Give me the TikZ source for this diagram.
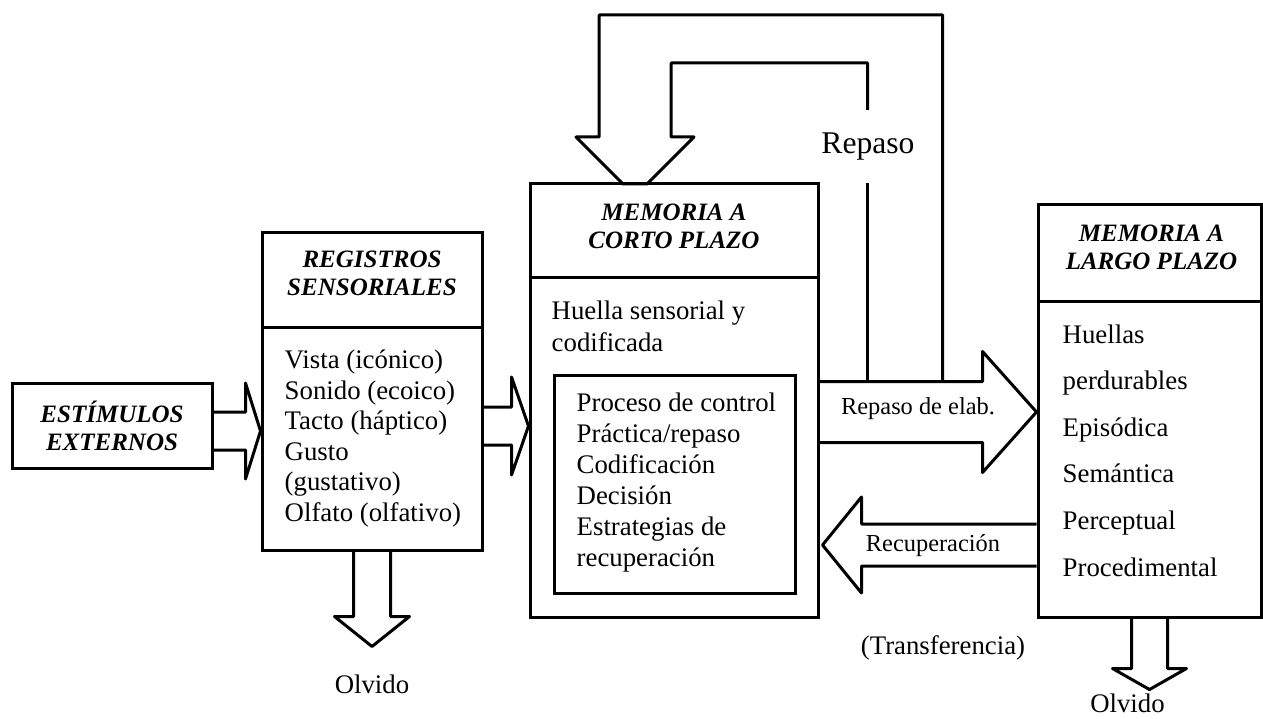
\documentclass[tikz,border=0pt]{standalone}
\usepackage{fontspec}
\setmainfont{Liberation Serif}
\usetikzlibrary{calc}

\tikzset{
  membox/.style={draw, line width=3pt, rectangle, inner sep=0pt},
  fatarrow/.style={draw, line width=3pt, line join=round},
  ttl/.style={font=\fontsize{25}{28}\selectfont\bfseries\itshape, align=center, inner sep=0pt},
  txt/.style={font=\fontsize{26.8}{31}\selectfont, align=left, inner sep=0pt},
  lbl/.style={font=\fontsize{24.4}{28}\selectfont, inner sep=0pt},
}

\newcommand{\FatH}[5]{%
  \draw[fatarrow] ($(#1)+(0,{-(#3)})$) -- ($(#2)+({-(#5)},{-(#3)})$) -- ($(#2)+({-(#5)},{-(#4)})$) -- (#2)
    -- ($(#2)+({-(#5)},{#4})$) -- ($(#2)+({-(#5)},{#3})$) -- ($(#1)+(0,{#3})$);}
\newcommand{\FatV}[5]{%
  \draw[fatarrow] ($(#1)+({-(#3)},0)$) -- ($(#2)+({-(#3)},{-(#5)})$) -- ($(#2)+({-(#4)},{-(#5)})$) -- (#2)
    -- ($(#2)+({#4},{-(#5)})$) -- ($(#2)+({#3},{-(#5)})$) -- ($(#1)+({#3},0)$);}

\begin{document}
\begin{tikzpicture}[x=1pt,y=-1pt]
    \useasboundingbox (0,0) rectangle (1263,719);

    \node[membox, ttl, minimum width=200pt, minimum height=85pt] (stim) at (112,425.5) {ESTÍMULOS\\EXTERNOS};

    \node[membox, minimum width=220pt, minimum height=317pt] (reg) at (372,391.5) {};
    \draw[line width=3pt] ($(reg.north west)+(0,96)$) -- ($(reg.north east)+(0,96)$);
    \node[ttl] (regT) at ($(reg.north)+(0,42)$) {REGISTROS\\SENSORIALES};
    \node[txt, anchor=west, font=\fontsize{26.8}{30.6}\selectfont] (regB) at ($(reg.west)+(24,47)$)
        {Vista (icónico)\\Sonido (ecoico)\\Tacto (háptico)\\Gusto\\(gustativo)\\Olfato (olfativo)};

    \node[membox, minimum width=288pt, minimum height=433pt] (mcp) at (674,400.5) {};
    \draw[line width=3pt] ($(mcp.north west)+(0,95)$) -- ($(mcp.north east)+(0,95)$);
    \node[ttl] (mcpT) at ($(mcp.north)+(0,44)$) {MEMORIA A\\CORTO PLAZO};
    \node[txt, anchor=west, font=\fontsize{26.8}{32}\selectfont] (mcpB) at ($(mcp.west)+(23,-74.5)$)
        {Huella sensorial y\\codificada};
    \node[membox, minimum width=241pt, minimum height=218pt] (ctrl) at (674.5,484) {};
    \node[txt, anchor=west] (ctrlB) at ($(ctrl.west)+(24,-1)$)
        {Proceso de control\\Práctica/repaso\\Codificación\\Decisión\\Estrategias de\\recuperación};

    \node[membox, minimum width=223pt, minimum height=412pt] (mlp) at (1149.5,411) {};
    \draw[line width=3pt] ($(mlp.north west)+(0,98)$) -- ($(mlp.north east)+(0,98)$);
    \node[ttl] (mlpT) at ($(mlp.north)+(2,43.5)$) {MEMORIA A\\LARGO PLAZO};
    \node[txt, anchor=west, font=\fontsize{26.8}{46.6}\selectfont] (mlpB) at ($(mlp.west)+(26,39.5)$)
        {Huellas\\perdurables\\Episódica\\Semántica\\Perceptual\\Procedimental};

    \coordinate (e1) at ($(stim.east)+(0,5.5)$);
    \coordinate (e2) at (e1 -| reg.west);
    \FatH{e1}{e2}{19}{48}{15}

    \coordinate (e3) at ($(reg.east)+(0,34.5)$);
    \coordinate (e4) at (e3 -| mcp.west);
    \FatH{e3}{e4}{19}{49}{17}

    \coordinate (e5) at ($(mcp.east)+(0,11.5)$);
    \coordinate (e6) at (e5 -| mlp.west);
    \FatH{e5}{e6}{30.5}{60.5}{54}

    \coordinate (e7) at ($(mlp.west)+(0,134)$);
    \coordinate (e8) at ($(e7 -| mcp.east)+(3,0)$);
    \FatH{e7}{e8}{21}{48}{-39}

    \coordinate (e9) at (reg.south);
    \coordinate (e10) at ($(reg.south)+(0,95)$);
    \FatV{e9}{e10}{18.5}{37.5}{30}

    \coordinate (e11) at (mlp.south);
    \coordinate (e12) at ($(mlp.south)+(0,71)$);
    \FatV{e11}{e12}{18}{37}{21}

    \coordinate (r1) at ($(e5)+(48,-30.5)$);
    \coordinate (r2) at ($(e5)+(123,-30.5)$);
    \node[font=\fontsize{31.6}{34}\selectfont, inner sep=0pt, minimum height=73pt] (rep) at (868,146.5) {Repaso};
    \draw[fatarrow] (r2) -- (r2 |- 0,15) -- (599,15) -- (599,137) -- (576,137) -- (623,184) -- (647,184)
        -- (694,137) -- (671,137) -- (671,63) -- (r1 |- 0,63) -- (r1 |- rep.north);
    \draw[fatarrow] (r1 |- rep.south) -- (r1);

    \node[lbl] (elab) at (918,409) {Repaso de elab.};
    \node[lbl] (recu) at (933,546) {Recuperación};
    \node[txt] (trans) at (943,648) {(Transferencia)};
    \node[txt] (olv1) at ($(e10)+(0,38)$) {Olvido};
    \node[txt] (olv2) at ($(e12)+(-22,14)$) {Olvido};
\end{tikzpicture}
\end{document}
